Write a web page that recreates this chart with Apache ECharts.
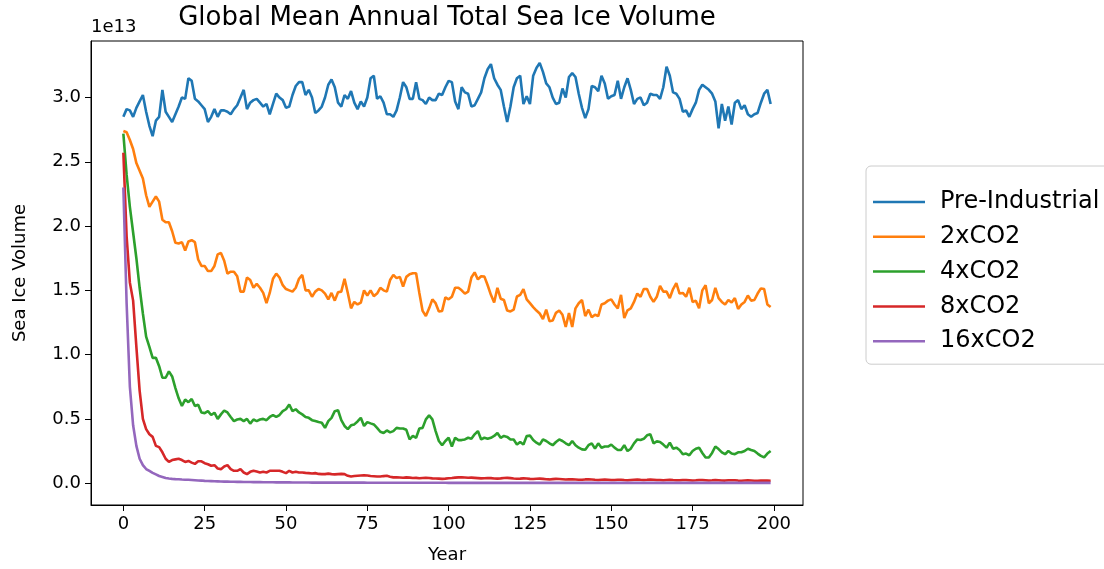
<!DOCTYPE html>
<html>
<head>
<meta charset="utf-8">
<script src="https://cdn.jsdelivr.net/npm/echarts@6/dist/echarts.min.js"></script>
<style>html,body{margin:0;padding:0;background:#fff}#c{width:1104px;height:569px}</style>
</head>
<body>
<div id="c"></div>
<script>
// Values in units of 1e13
const seriesNames = ["Pre-Industrial", "2xCO2", "4xCO2", "8xCO2", "16xCO2"];
const xTicks = [0, 25, 50, 75, 100, 125, 150, 175, 200];
const yTicks = [0, 0.5, 1.0, 1.5, 2.0, 2.5, 3.0];

const preIndustrial = [2.85,2.91,2.90,2.85,2.92,2.97,3.02,2.89,2.78,2.70,
 2.82,2.85,3.06,2.89,2.85,2.81,2.87,2.93,3.00,2.99,
 3.15,3.13,2.99,2.97,2.94,2.91,2.81,2.85,2.91,2.85,
 2.90,2.90,2.89,2.87,2.91,2.94,3.00,3.06,2.91,2.96,
 2.98,2.99,2.96,2.93,2.95,2.87,2.95,3.03,3.00,2.98,
 2.92,2.93,3.02,3.09,3.12,3.12,3.02,3.06,3.00,2.88,
 2.90,2.93,3.00,3.10,3.14,3.08,2.96,2.93,3.02,2.99,
 3.05,2.96,2.91,2.97,2.93,3.00,3.15,3.17,2.99,3.01,
 2.96,2.87,2.87,2.85,2.90,3.00,3.12,3.08,2.99,2.99,
 3.12,2.99,2.98,2.95,3.00,2.98,2.98,3.03,3.02,3.08,
 3.13,3.12,2.97,2.91,3.08,3.04,3.03,2.93,2.94,2.99,
 3.04,3.15,3.22,3.26,3.15,3.10,3.06,2.93,2.81,2.93,
 3.08,3.15,3.17,2.95,3.01,2.95,3.17,3.23,3.27,3.20,
 3.11,3.08,3.00,2.95,2.96,3.07,3.00,3.16,3.19,3.16,
 3.03,2.92,2.84,2.91,3.09,3.08,3.05,3.17,3.11,2.99,
 3.01,3.02,3.13,2.99,3.08,3.15,3.06,2.95,2.99,3.00,
 2.94,2.96,3.03,3.02,3.02,2.99,3.08,3.24,3.17,3.04,
 3.03,2.99,2.89,2.90,2.85,2.91,2.96,3.06,3.10,3.08,
 3.06,3.03,2.97,2.76,2.95,2.82,2.93,2.79,2.96,2.98,
 2.91,2.94,2.87,2.85,2.87,2.88,2.96,3.03,3.06,2.95];

const co2x2 = [2.74,2.73,2.67,2.60,2.49,2.43,2.37,2.24,2.15,2.19,
 2.23,2.19,2.05,2.03,2.03,1.96,1.87,1.865,1.875,1.81,
 1.88,1.89,1.875,1.74,1.69,1.69,1.65,1.65,1.69,1.78,
 1.79,1.73,1.63,1.645,1.645,1.61,1.49,1.49,1.60,1.58,
 1.52,1.55,1.52,1.48,1.40,1.48,1.59,1.63,1.60,1.54,
 1.51,1.50,1.49,1.52,1.59,1.62,1.50,1.50,1.45,1.49,
 1.51,1.50,1.475,1.43,1.48,1.42,1.485,1.49,1.59,1.48,
 1.36,1.41,1.39,1.405,1.50,1.46,1.50,1.455,1.475,1.52,
 1.50,1.49,1.58,1.62,1.595,1.605,1.53,1.605,1.625,1.633,
 1.633,1.48,1.34,1.30,1.36,1.43,1.40,1.335,1.34,1.445,
 1.43,1.45,1.52,1.52,1.50,1.475,1.49,1.60,1.64,1.585,
 1.61,1.607,1.54,1.465,1.405,1.52,1.435,1.425,1.343,1.336,
 1.35,1.452,1.465,1.51,1.43,1.40,1.37,1.343,1.32,1.277,
 1.35,1.26,1.265,1.325,1.343,1.31,1.215,1.323,1.215,1.36,
 1.40,1.425,1.30,1.35,1.29,1.31,1.30,1.39,1.40,1.42,
 1.43,1.39,1.36,1.465,1.284,1.345,1.36,1.41,1.475,1.45,
 1.51,1.51,1.45,1.41,1.45,1.535,1.49,1.49,1.44,1.51,
 1.556,1.475,1.48,1.45,1.52,1.41,1.42,1.36,1.50,1.54,
 1.40,1.425,1.52,1.44,1.41,1.39,1.425,1.405,1.44,1.355,
 1.39,1.41,1.46,1.42,1.425,1.475,1.515,1.51,1.39,1.37];

const co2x4 = [2.72,2.40,2.15,1.95,1.75,1.52,1.32,1.14,1.06,0.975,
 0.975,0.91,0.82,0.82,0.87,0.83,0.74,0.66,0.60,0.65,
 0.63,0.655,0.60,0.61,0.55,0.545,0.56,0.53,0.548,0.50,
 0.535,0.565,0.55,0.515,0.483,0.495,0.50,0.483,0.50,0.463,
 0.495,0.483,0.495,0.50,0.49,0.515,0.53,0.515,0.53,0.56,
 0.575,0.612,0.56,0.575,0.55,0.535,0.515,0.508,0.49,0.483,
 0.475,0.47,0.43,0.483,0.508,0.56,0.567,0.49,0.445,0.42,
 0.45,0.457,0.48,0.508,0.445,0.475,0.465,0.457,0.43,0.40,
 0.39,0.41,0.395,0.405,0.43,0.425,0.425,0.415,0.34,0.367,
 0.353,0.425,0.43,0.496,0.527,0.496,0.405,0.328,0.295,0.328,
 0.353,0.285,0.353,0.335,0.335,0.34,0.353,0.345,0.38,0.405,
 0.34,0.353,0.345,0.353,0.367,0.39,0.353,0.367,0.36,0.34,
 0.34,0.30,0.32,0.30,0.367,0.37,0.335,0.315,0.30,0.34,
 0.328,0.31,0.295,0.32,0.34,0.328,0.31,0.295,0.328,0.295,
 0.276,0.263,0.26,0.295,0.31,0.268,0.31,0.276,0.285,0.285,
 0.30,0.276,0.258,0.258,0.295,0.25,0.268,0.31,0.34,0.336,
 0.345,0.372,0.38,0.31,0.325,0.32,0.30,0.276,0.315,0.268,
 0.276,0.258,0.225,0.23,0.217,0.25,0.268,0.276,0.235,0.20,
 0.20,0.235,0.285,0.265,0.24,0.225,0.25,0.23,0.225,0.24,
 0.24,0.25,0.268,0.258,0.25,0.23,0.212,0.20,0.23,0.25];

const co2x8 = [2.57,1.92,1.56,1.42,1.06,0.72,0.50,0.42,0.38,0.36,
 0.29,0.28,0.24,0.19,0.165,0.18,0.185,0.19,0.18,0.165,
 0.173,0.16,0.15,0.17,0.17,0.155,0.147,0.135,0.14,0.114,
 0.109,0.13,0.14,0.109,0.096,0.096,0.109,0.083,0.07,0.088,
 0.096,0.09,0.083,0.088,0.083,0.096,0.096,0.096,0.096,0.088,
 0.078,0.096,0.083,0.088,0.083,0.083,0.08,0.078,0.075,0.078,
 0.072,0.07,0.07,0.074,0.07,0.068,0.07,0.072,0.07,0.057,
 0.052,0.055,0.058,0.06,0.062,0.06,0.056,0.054,0.052,0.052,
 0.055,0.057,0.05,0.045,0.046,0.044,0.042,0.045,0.043,0.040,
 0.041,0.038,0.040,0.042,0.040,0.037,0.036,0.035,0.033,0.035,
 0.038,0.040,0.043,0.045,0.046,0.044,0.042,0.043,0.041,0.039,
 0.037,0.038,0.040,0.039,0.036,0.035,0.037,0.040,0.041,0.039,
 0.036,0.034,0.035,0.037,0.036,0.033,0.032,0.034,0.035,0.033,
 0.030,0.029,0.031,0.033,0.032,0.030,0.028,0.029,0.030,0.028,
 0.026,0.027,0.029,0.030,0.028,0.026,0.025,0.027,0.028,0.026,
 0.024,0.025,0.027,0.026,0.024,0.023,0.025,0.027,0.028,0.026,
 0.025,0.026,0.028,0.027,0.025,0.024,0.023,0.025,0.026,0.024,
 0.023,0.022,0.024,0.025,0.023,0.021,0.022,0.024,0.025,0.023,
 0.021,0.022,0.024,0.023,0.021,0.020,0.022,0.023,0.022,0.020,
 0.019,0.021,0.022,0.021,0.019,0.018,0.020,0.021,0.020,0.019];

const co2x16 = [2.30,1.40,0.75,0.45,0.29,0.19,0.14,0.11,0.095,0.08,
 0.068,0.056,0.048,0.040,0.036,0.033,0.031,0.030,0.028,0.027,
 0.026,0.025,0.023,0.021,0.020,0.018,0.017,0.016,0.015,0.014,
 0.013,0.012,0.012,0.011,0.011,0.010,0.010,0.009,0.009,0.009,
 0.008,0.008,0.008,0.007,0.007,0.007,0.007,0.006,0.006,0.006,
 0.006,0.006,0.005,0.005,0.005,0.005,0.005,0.005,0.004,0.004,
 0.004,0.004,0.004,0.004,0.004,0.004,0.004,0.004,0.004,0.004,
 0.004,0.004,0.004,0.004,0.004,0.003,0.003,0.003,0.003,0.003,
 0.003,0.003,0.003,0.003,0.003,0.003,0.003,0.003,0.003,0.003,
 0.003,0.003,0.003,0.003,0.003,0.003,0.003,0.003,0.003,0.003,
 0.002,0.002,0.002,0.002,0.002,0.002,0.002,0.002,0.002,0.002,
 0.002,0.002,0.002,0.002,0.002,0.002,0.002,0.002,0.002,0.002,
 0.002,0.002,0.002,0.002,0.002,0.002,0.002,0.002,0.002,0.002,
 0.002,0.002,0.002,0.002,0.002,0.002,0.002,0.002,0.002,0.002,
 0.002,0.002,0.002,0.002,0.002,0.002,0.002,0.002,0.002,0.002,
 0.002,0.002,0.002,0.002,0.002,0.002,0.002,0.002,0.002,0.002,
 0.002,0.002,0.002,0.002,0.002,0.002,0.002,0.002,0.002,0.002,
 0.002,0.002,0.002,0.002,0.002,0.002,0.002,0.002,0.002,0.002,
 0.002,0.002,0.002,0.002,0.002,0.002,0.002,0.002,0.002,0.002,
 0.002,0.002,0.002,0.002,0.002,0.002,0.002,0.002,0.002,0.002];

const allValues = [preIndustrial, co2x2, co2x4, co2x8, co2x16];
const colors = ["#1f77b4", "#ff7f0e", "#2ca02c", "#d62728", "#9467bd"];
const FONT = "DejaVu Sans";

const chart = echarts.init(document.getElementById('c'), null, {renderer: 'canvas'});
const option = {
  animation: false,
  backgroundColor: '#fff',
  textStyle: {fontFamily: FONT, color: '#000'},
  graphic: [{
    type: 'text', x: 447, y: 18, z: 100,
    style: {text: 'Global Mean Annual Total Sea Ice Volume', font: '26px "DejaVu Sans"',
      fill: '#000', align: 'center', verticalAlign: 'middle', textAlign: 'center', textVerticalAlign: 'middle'}
  }, {
    type: 'text', x: 91, y: 27, z: 100,
    style: {text: '1e13', font: '18px "DejaVu Sans"', fill: '#000', align: 'left', verticalAlign: 'middle', textAlign: 'left', textVerticalAlign: 'middle'}
  }],
  legend: {
    data: seriesNames,
    orient: 'vertical',
    left: 866, top: 166,
    icon: 'rect',
    itemWidth: 52, itemHeight: 2.5,
    itemGap: 10.8,
    padding: [24, 40, 11, 7],
    borderColor: '#cccccc', borderWidth: 1, borderRadius: 5,
    backgroundColor: '#fff',
    textStyle: {fontFamily: FONT, fontSize: 24, color: '#000', lineHeight: 24, padding: [0, 0, 0, 10]}
  },
  grid: {left: 91, top: 41, width: 712, height: 468, show: true, borderColor: '#000', borderWidth: 1, containLabel: false},
  xAxis: {
    type: 'value', min: -9.95, max: 208.95,
    name: 'Year', nameLocation: 'middle', nameGap: 41,
    nameTextStyle: {fontFamily: FONT, fontSize: 18, color: '#000'},
    axisLine: {show: true, onZero: false, lineStyle: {color: '#000', width: 1}},
    axisTick: {show: true, length: 6, lineStyle: {color: '#000'}, customValues: xTicks},
    axisLabel: {show: true, margin: 10, fontFamily: FONT, fontSize: 18, color: '#000', customValues: xTicks,
      formatter: v => String(v)},
    splitLine: {show: false}
  },
  yAxis: {
    type: 'value', min: -0.17, max: 3.44,
    name: 'Sea Ice Volume', nameLocation: 'middle', nameGap: 62,
    nameTextStyle: {fontFamily: FONT, fontSize: 18, color: '#000'},
    axisLine: {show: true, onZero: false, lineStyle: {color: '#000', width: 1}},
    axisTick: {show: true, length: 6, lineStyle: {color: '#000'}, customValues: yTicks},
    axisLabel: {show: true, margin: 10, fontFamily: FONT, fontSize: 18, color: '#000', customValues: yTicks,
      formatter: v => v.toFixed(1)},
    splitLine: {show: false}
  },
  series: seriesNames.map((name, i) => ({
    name: name,
    type: 'line',
    data: allValues[i].map((v, k) => [k, v]),
    showSymbol: false, symbol: 'none',
    lineStyle: {width: 2.6, color: colors[i]},
    itemStyle: {color: colors[i]},
    z: 2 + i
  }))
};
chart.setOption(option);
</script>
</body>
</html>
